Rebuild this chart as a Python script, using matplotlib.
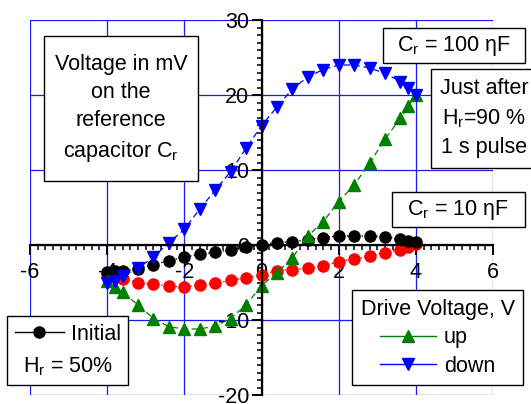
import matplotlib
matplotlib.use('Agg')
import matplotlib.pyplot as plt
from matplotlib.lines import Line2D
from matplotlib.patches import Rectangle
from matplotlib.ticker import MultipleLocator

plt.rcParams['font.family'] = ['Liberation Sans', 'DejaVu Sans']
plt.rcParams['axes.unicode_minus'] = False
plt.rcParams['mathtext.default'] = 'regular'

# ---------------- data (mV vs drive voltage, V) ----------------
drive_v = [-4.0, -3.8, -3.6, -3.2, -2.8, -2.4, -2.0, -1.6, -1.2, -0.8, -0.4, 0.0,
           0.4, 0.8, 1.2, 1.6, 2.0, 2.4, 2.8, 3.2, 3.6, 3.8, 4.0]
# C_r = 10 nF, initial state (black)
initial_10nf = [-3.6, -3.5, -3.4, -3.2, -2.6, -2.1, -1.6, -1.25, -0.95, -0.65, -0.25, 0.05,
                0.3, 0.45, 0.7, 1.0, 1.2, 1.2, 1.2, 1.1, 0.75, 0.6, 0.4]
# C_r = 10 nF, just after pulse (red)
after_10nf = [-3.9, -4.2, -4.5, -5.0, -5.2, -5.5, -5.6, -5.3, -5.1, -4.7, -4.4, -4.0,
              -3.4, -3.3, -3.1, -2.8, -2.2, -1.9, -1.5, -1.0, -0.6, -0.2, 0.1]
# C_r = 100 nF, drive voltage up (green)
up_100nf = [-4.8, -5.6, -6.3, -8.0, -9.8, -10.9, -11.2, -11.2, -10.8, -9.8, -8.0, -5.4,
            -3.7, -1.7, 1.2, 3.1, 5.8, 8.0, 10.9, 14.1, 16.9, 18.5, 20.0]
# C_r = 100 nF, drive voltage down (blue)
down_100nf = [-5.0, -4.8, -4.1, -3.1, -1.6, 0.3, 2.1, 4.8, 7.3, 9.8, 12.9, 15.9,
              18.4, 20.8, 22.4, 23.4, 24.0, 24.0, 23.6, 22.9, 21.8, 21.0, 20.0]

x_ticks = [-6, -4, -2, 0, 2, 4, 6]
y_ticks = [-20, -10, 0, 10, 20, 30]

# ---------------- figure ----------------
W, H = 531, 404
fig = plt.figure(figsize=(W / 100, H / 100), dpi=100)
ax = fig.add_axes([30 / W, 1 - 395 / H, 463 / W, 375 / H])
ax.set_xlim(-6, 6)
ax.set_ylim(-20, 30)
ax.set_xticks(x_ticks)
ax.set_yticks(y_ticks)
ax.xaxis.set_minor_locator(MultipleLocator(0.2))
ax.yaxis.set_minor_locator(MultipleLocator(1))
ax.grid(True, which='major', color='#1a1aff', lw=0.9)
ax.set_axisbelow(True)
for s in ['top', 'right']:
    ax.spines[s].set_visible(False)
ax.spines['left'].set_position(('data', 0))
ax.spines['bottom'].set_position(('data', 0))
for s in ['left', 'bottom']:
    ax.spines[s].set_linewidth(1.6)
ax.tick_params(which='major', direction='out', length=7, width=1.4, labelsize=15.5)
ax.tick_params(which='minor', direction='out', length=3.5, width=1.1)
ax.tick_params(axis='x', which='major', pad=5)
ax.tick_params(axis='y', which='major', pad=2)

ax.plot(drive_v, after_10nf, color='#ff0000', ls=':', lw=1, marker='o', ms=8,
        mec='#ff0000', mfc='#ff0000')
ax.plot(drive_v, initial_10nf, color='black', ls=':', lw=1, marker='o', ms=8,
        mec='black', mfc='black')
ax.plot(drive_v, up_100nf, color='#008000', ls=(0, (5, 3)), lw=0.9, marker='^', ms=9,
        mec='#008000', mfc='#008000')
ax.plot(drive_v, down_100nf, color='#0000ff', ls=(0, (5, 3)), lw=0.9, marker='v', ms=9,
        mec='#0000ff', mfc='#0000ff')

# ---------------- annotation boxes ----------------
FS = 15.5


def box(x0, y0, w, h):
    fig.add_artist(Rectangle((x0 / W, 1 - (y0 + h) / H), w / W, h / H,
                             transform=fig.transFigure, facecolor='white',
                             edgecolor='black', lw=1.0, zorder=4))


def label(xc, yc, s):
    fig.text(xc / W, 1 - yc / H, s, ha='center', va='center', fontsize=FS,
             multialignment='center', linespacing=1.45, zorder=5)


box(44, 36, 154, 145)
label(121, 109, 'Voltage in mV\non the\nreference\ncapacitor C$_\\mathregular{r}$')
box(383, 28, 142, 35)
label(454, 46, 'C$_\\mathregular{r}$ = 100 ηF')
box(431, 69, 110, 99)
label(484, 118, 'Just after\nH$_\\mathregular{r}$=90 %\n1 s pulse')
box(392, 192, 133, 35)
label(458, 210, 'C$_\\mathregular{r}$ = 10 ηF')

# ---------------- legends ----------------
h_init = Line2D([], [], color='black', lw=1, marker='o', ms=8)
leg1 = ax.legend(handles=[h_init], labels=['Initial'], title='H$_\\mathregular{r}$ = 50%',
                 loc='upper left', bbox_to_anchor=(7 / W, 1 - 316 / H),
                 bbox_transform=fig.transFigure, borderaxespad=0, fancybox=False,
                 edgecolor='black', framealpha=1, fontsize=FS, title_fontsize=FS,
                 handlelength=2.3, handletextpad=0.3, borderpad=0.35)
leg1.get_frame().set_linewidth(1.0)
try:
    ch = leg1._legend_box._children
    leg1._legend_box._children = [ch[1], ch[0]]
except Exception:
    pass
ax.add_artist(leg1)

h_up = Line2D([], [], color='#008000', lw=1, marker='^', ms=9)
h_down = Line2D([], [], color='#0000ff', lw=1, marker='v', ms=9)
leg2 = ax.legend(handles=[h_up, h_down], labels=['up', 'down'], title='Drive Voltage, V',
                 loc='upper left', bbox_to_anchor=(352 / W, 1 - 290 / H),
                 bbox_transform=fig.transFigure, borderaxespad=0, fancybox=False,
                 edgecolor='black', framealpha=1, fontsize=FS, title_fontsize=FS,
                 handlelength=2.6, handletextpad=0.35, borderpad=0.4, labelspacing=0.35)
leg2.get_frame().set_linewidth(1.0)

fig.savefig('out.png', dpi=100, facecolor='white')
